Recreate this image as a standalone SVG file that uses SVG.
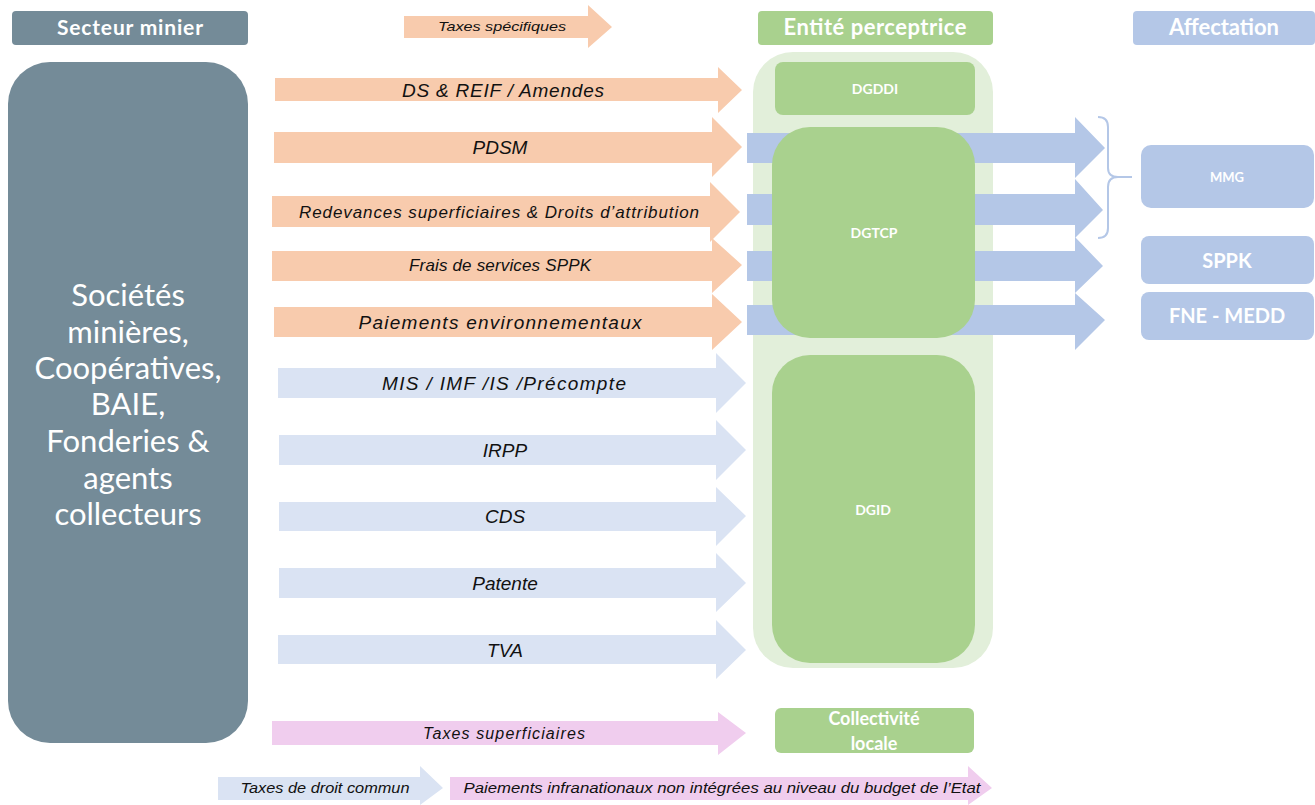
<svg xmlns="http://www.w3.org/2000/svg" width="1315" height="805" viewBox="0 0 1315 805">
<style>
.grey{fill:#748b98}
.or{fill:#f8cbad}
.lb{fill:#dae3f3}
.pk{fill:#f0cdee}
.bl{fill:#b4c7e7}
.gr{fill:#a9d18e}
.lg{fill:#e2efda}
.hdr{font-family:Lato,"Liberation Sans",sans-serif;font-weight:bold;fill:#fff;text-anchor:middle}
.lbl{font-family:"Liberation Sans",Arial,sans-serif;font-style:italic;fill:#111;text-anchor:middle}
.big{font-family:Lato,"Liberation Sans",sans-serif;font-size:31px;fill:#fff;text-anchor:middle}
</style>
<rect width="1315" height="805" fill="#fff"/>

<g id="hdr-secteur"><rect x="12" y="11" width="236" height="34" rx="4" class="grey"/><text x="130" y="35" class="hdr" font-size="21" textLength="146">Secteur minier</text></g>
<g id="hdr-entite"><rect x="758" y="11" width="235" height="34" rx="4" class="gr"/><text x="875" y="35" class="hdr" font-size="22" textLength="183">Entité perceptrice</text></g>
<g id="hdr-affectation"><rect x="1133" y="11" width="182" height="34" rx="4" class="bl"/><text x="1224" y="35" class="hdr" font-size="22" textLength="110">Affectation</text></g>

<g id="legend-specifiques"><polygon class="or" points="404,16 588,16 588,5 612,27 588,48 588,38 404,38"/><text x="502" y="31" class="lbl" font-size="13" textLength="128" lengthAdjust="spacingAndGlyphs">Taxes spécifiques</text></g>

<g id="secteur"><rect x="8" y="62" width="240" height="681" rx="42" class="grey"/>
<text class="big"><tspan x="128" y="306">Sociétés</tspan><tspan x="128" y="343">minières,</tspan><tspan x="128" y="379">Coopératives,</tspan><tspan x="128" y="415">BAIE,</tspan><tspan x="128" y="452">Fonderies &amp;</tspan><tspan x="128" y="489">agents</tspan><tspan x="128" y="525">collecteurs</tspan></text></g>

<g id="entite-container"><rect x="753" y="52" width="240" height="616" rx="40" class="lg"/></g>

<g id="connectors">
<g id="arrows-affectation">
<polygon class="bl" points="747,133 1075,133 1075,117 1105,148 1075,178 1075,163 747,163"/>
<polygon class="bl" points="747,194 1075,194 1075,179 1103,210 1075,238 1075,225 747,225"/>
<polygon class="bl" points="747,251 1075,251 1075,237 1103,266 1075,293 1075,281 747,281"/>
<polygon class="bl" points="747,305 1075,305 1075,293 1105,320 1075,350 1075,335 747,335"/>
</g>
<g id="arrows-specifiques">
<polygon class="or" points="275,78 718,78 718,67 742,90 718,113 718,101 275,101"/>
<text x="503" y="97" class="lbl" font-size="19" textLength="202">DS &amp; REIF / Amendes</text>
<polygon class="or" points="274,132 712,132 712,117 742,147 712,177 712,163 274,163"/>
<text x="500" y="154" class="lbl" font-size="19">PDSM</text>
<polygon class="or" points="272,196 710,196 710,182 740,212 710,242 710,227 272,227"/>
<text x="499" y="218" class="lbl" font-size="17" textLength="400">Redevances superficiaires &amp; Droits d’attribution</text>
<polygon class="or" points="272,251 712,251 712,238 742,265 712,293 712,281 272,281"/>
<text x="500" y="271" class="lbl" font-size="17" textLength="182">Frais de services SPPK</text>
<polygon class="or" points="274,307 712,307 712,294 742,322 712,350 712,337 274,337"/>
<text x="500" y="329" class="lbl" font-size="19" textLength="283">Paiements environnementaux</text>
</g>
<g id="arrows-droit-commun">
<polygon class="lb" points="278,368 716,368 716,353 746,383 716,413 716,398 278,398"/>
<text x="504" y="390" class="lbl" font-size="19" textLength="244">MIS / IMF /IS /Précompte</text>
<polygon class="lb" points="279,435 716,435 716,420 746,450 716,480 716,465 279,465"/>
<text x="505" y="457" class="lbl" font-size="19">IRPP</text>
<polygon class="lb" points="279,502 716,502 716,487 746,516 716,546 716,531 279,531"/>
<text x="505" y="523" class="lbl" font-size="19">CDS</text>
<polygon class="lb" points="279,568 716,568 716,553 746,583 716,612 716,598 279,598"/>
<text x="505" y="590" class="lbl" font-size="19">Patente</text>
<polygon class="lb" points="278,635 716,635 716,620 746,650 716,679 716,664 278,664"/>
<text x="505" y="657" class="lbl" font-size="19">TVA</text>
</g>
<g id="arrow-infranational">
<polygon class="pk" points="272,721 718,721 718,712 746,733 718,755 718,745 272,745"/>
<text x="504" y="739" class="lbl" font-size="16" textLength="162">Taxes superficiaires</text>
</g>
<path id="brace" d="M1098,117 Q1108,117 1108,127 L1108,168 Q1108,177 1118,177 L1132,177 M1118,177 Q1108,177 1108,187 L1108,228 Q1108,238 1098,238" fill="none" stroke="#b4c7e7" stroke-width="2"/>
</g>

<g id="dgddi"><rect x="775" y="62" width="200" height="53" rx="8" class="gr"/><text x="875" y="94" class="hdr" font-size="14">DGDDI</text></g>
<g id="dgtcp"><rect x="772" y="127" width="203" height="211" rx="38" class="gr"/><text x="874" y="238" class="hdr" font-size="14">DGTCP</text></g>
<g id="dgid"><rect x="772" y="355" width="203" height="308" rx="38" class="gr"/><text x="873" y="515" class="hdr" font-size="14">DGID</text></g>
<g id="collectivite"><rect x="775" y="708" width="199" height="45" rx="6" class="gr"/><text class="hdr" font-size="18"><tspan x="874" y="725">Collectivité</tspan><tspan x="874" y="750">locale</tspan></text></g>

<g id="mmg"><rect x="1141" y="145" width="173" height="63" rx="10" class="bl"/><text x="1227" y="182" class="hdr" font-size="13">MMG</text></g>
<g id="sppk"><rect x="1141" y="236" width="173" height="48" rx="8" class="bl"/><text x="1227" y="268" class="hdr" font-size="20">SPPK</text></g>
<g id="fne"><rect x="1141" y="292" width="173" height="48" rx="8" class="bl"/><text x="1227" y="323" class="hdr" font-size="20">FNE - MEDD</text></g>

<g id="legend-bottom">
<polygon class="lb" points="218,777 420,777 420,766 443,788 420,805 420,800 218,800"/>
<text x="325" y="793" class="lbl" font-size="14" textLength="169" lengthAdjust="spacingAndGlyphs">Taxes de droit commun</text>
<polygon class="pk" points="450,777 968,777 968,766 992,788 968,805 968,800 450,800"/>
<text x="722" y="793" class="lbl" font-size="14" textLength="517" lengthAdjust="spacingAndGlyphs">Paiements infranationaux non intégrées au niveau du budget de l’Etat</text>
</g>
</svg>
